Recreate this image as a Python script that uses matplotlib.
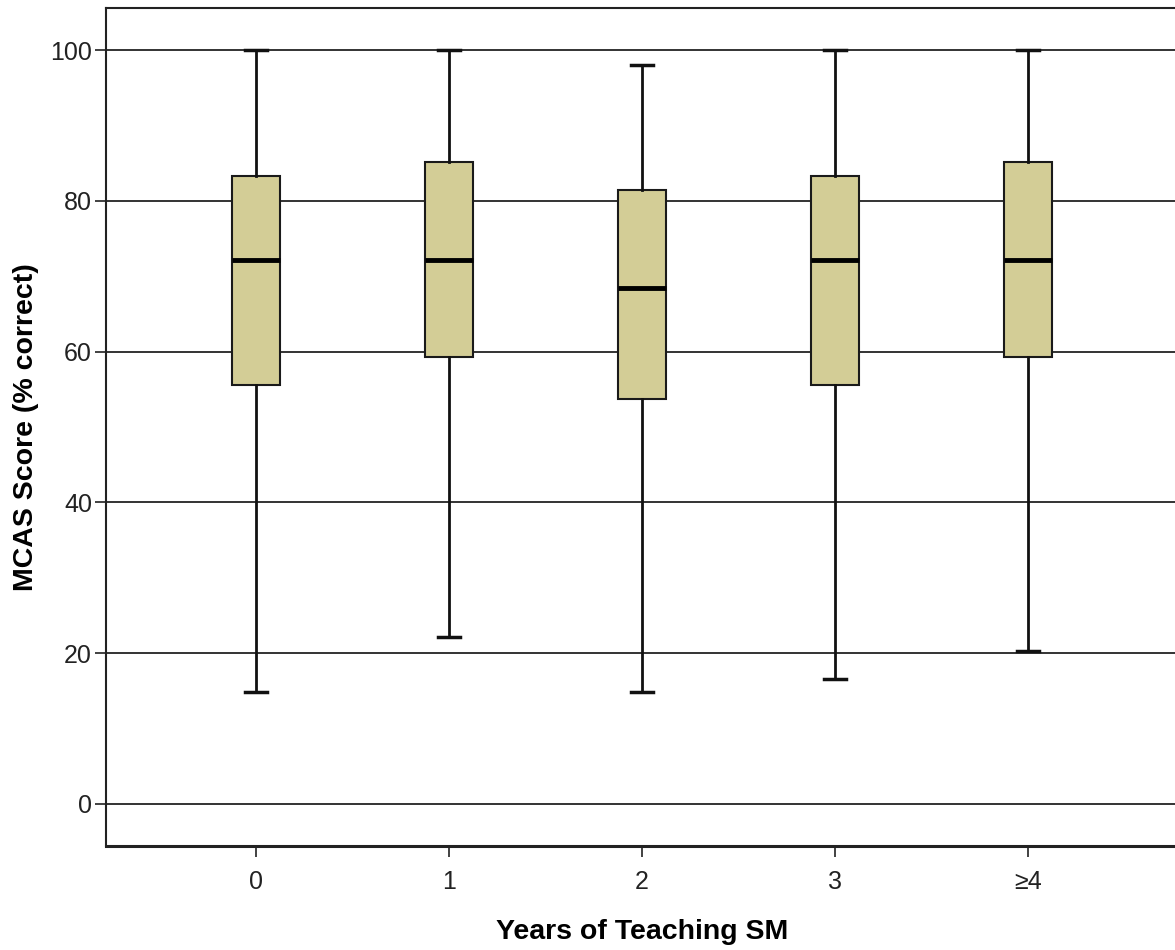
import matplotlib
matplotlib.use("Agg")
import matplotlib.pyplot as plt

categories = ["0", "1", "2", "3", "\u22654"]
whisker_low = [14.8, 22.2, 14.8, 16.6, 20.3]
q1 = [55.6, 59.3, 53.7, 55.6, 59.3]
median = [72.1, 72.1, 68.4, 72.1, 72.1]
q3 = [83.3, 85.1, 81.4, 83.3, 85.1]
whisker_high = [100.0, 100.0, 98.0, 100.0, 100.0]
y_ticks = [0, 20, 40, 60, 80, 100]

plt.rcParams['font.family'] = ['Liberation Sans', 'DejaVu Sans']

fig = plt.figure(figsize=(11.75, 9.5), dpi=100)
ax = fig.add_axes([106/1175, 1-846/950, (1178-106)/1175, (846-8)/950])

stats = []
for i, c in enumerate(categories):
    stats.append(dict(label=c, whislo=whisker_low[i], q1=q1[i], med=median[i],
                      q3=q3[i], whishi=whisker_high[i], fliers=[]))

positions = list(range(len(categories)))
ax.bxp(stats, positions=positions, widths=0.25, patch_artist=True,
       showfliers=False,
       boxprops=dict(facecolor="#d3cd96", edgecolor="#1a1a1a", linewidth=1.5),
       medianprops=dict(color="black", linewidth=3.5),
       whiskerprops=dict(color="#111111", linewidth=2),
       capprops=dict(color="#111111", linewidth=2.5),
       capwidths=0.11, zorder=3)

for yt in y_ticks:
    ax.axhline(yt, color="#333333", linewidth=1.4, zorder=1)

ax.set_xlim(-0.777, 4.777)
ax.set_ylim(-5.6, 105.6)
ax.set_yticks(y_ticks)
ax.set_yticklabels([str(v) for v in y_ticks])
ax.set_xticks(positions)
ax.set_xticklabels(categories)
ax.tick_params(axis='both', direction='out', length=8, width=1.3, color="#333333",
               labelsize=18, labelcolor="#222222")
ax.tick_params(axis='y', pad=2)
ax.tick_params(axis='x', pad=9)

for s in ax.spines.values():
    s.set_color("#222222")
    s.set_linewidth(1.5)
ax.spines['bottom'].set_linewidth(2.2)

ax.set_xlabel("Years of Teaching SM", fontsize=20.5, fontweight='bold', labelpad=18)
ax.set_ylabel("MCAS Score (% correct)", fontsize=20.5, fontweight='bold', labelpad=8)

fig.savefig("out.png", dpi=100)
